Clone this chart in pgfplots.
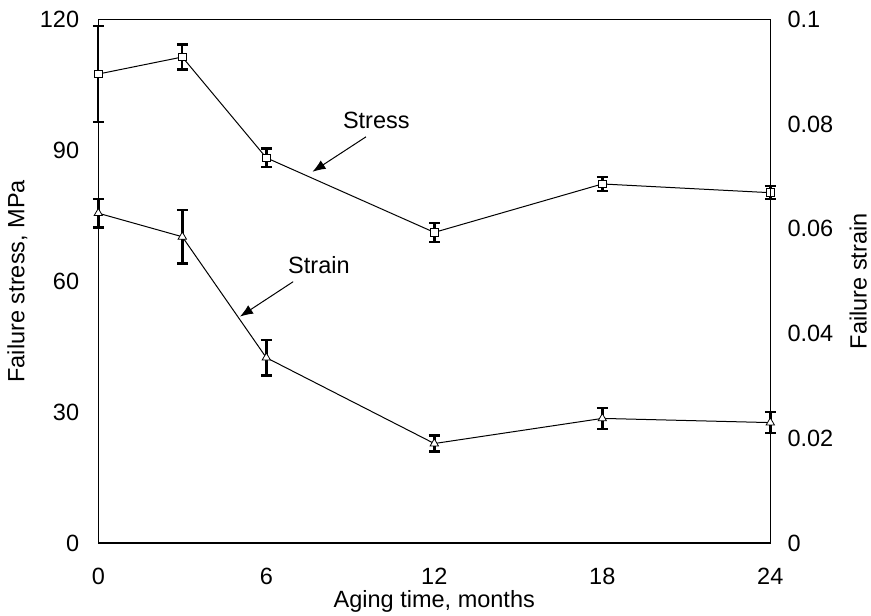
\documentclass[border=0pt]{standalone}
\usepackage{pgfplots}
\pgfplotsset{compat=1.18}
\usepackage{fontspec}
\setmainfont{Liberation Sans}
\usetikzlibrary{arrows.meta}
\begin{document}
\begin{tikzpicture}
\pgfplotsset{
  base/.style={
    scale only axis, width=672bp, height=523.5bp,
    xmin=0, xmax=24, clip=false,
    font=\fontsize{23.5bp}{28bp}\selectfont,
    major tick length=0pt,
    /pgf/number format/assume math mode=true,
    every tick label/.append style={inner sep=0pt, font=\fontsize{23.5bp}{28bp}\selectfont},
    axis line style={line width=1.2bp},
  },
  errs/.style={error bars/.cd, y dir=both, y explicit,
    error bar style={line width=2.4bp, black},
    error mark options={rotate=90, mark size=5.5bp, line width=2.4bp, black}},
}
\begin{axis}[base,
  ymin=0, ymax=120,
  xtick={0,6,12,18,24}, xticklabels={0,6,12,18,24},
  ytick={0,30,60,90,120}, yticklabels={0,30,60,90,120},
  xtick pos=bottom, ytick pos=left,
  xticklabel style={anchor=base, yshift=-41bp},
  yticklabel style={anchor=east, xshift=-19bp},
  xlabel={Aging time, months},
  ylabel={Failure stress, MPa},
  every axis x label/.style={at={(rel axis cs:0.5,0)}, anchor=base, yshift=-64bp},
  every axis y label/.style={at={(rel axis cs:0,0.5)}, xshift=-81bp, rotate=90, anchor=center},
]
\addplot[black, line width=1bp, mark=square*, mark size=3.8bp,
  mark options={fill=white, draw=black, line width=0.8bp}, errs]
  table[x=t, y=v, y error=e] {
t v e
0 107.5 11.0
3 111.4 2.9
6 88.3 2.1
12 71.2 2.2
18 82.3 1.6
24 80.3 1.5
};
\node[inner sep=0pt, anchor=center] at (axis cs:9.93,96.85) {Stress};
\draw[line width=1bp, -{Latex[length=13bp,width=10bp]}] (axis cs:9.56,93.1) -- (axis cs:7.65,85.1);
\node[inner sep=0pt, anchor=center] at (axis cs:7.88,63.66) {Strain};
\draw[line width=1bp, -{Latex[length=13bp,width=10bp]}] (axis cs:6.96,59.9) -- (axis cs:5.06,51.9);
\end{axis}
\begin{axis}[base,
  ymin=0, ymax=0.1,
  axis x line=none, axis y line*=right,
  ytick={0,0.02,0.04,0.06,0.08,0.1}, yticklabels={0,0.02,0.04,0.06,0.08,0.1},
  yticklabel style={anchor=west, xshift=17bp},
  ylabel={Failure strain},
  every axis y label/.style={at={(rel axis cs:1,0.5)}, xshift=88bp, rotate=90, anchor=center},
]
\addplot[black, line width=1bp, mark=triangle*, mark size=4.8bp,
  mark options={fill=white, draw=black, line width=0.8bp}, errs]
  table[x=t, y=v, y error=e] {
t v e
0 0.0630 0.0027
3 0.0585 0.0051
6 0.0354 0.0034
12 0.0190 0.0015
18 0.0238 0.0020
24 0.0230 0.0020
};
\end{axis}
\path (current axis.south west) ++(-98.3bp,-71bp) coordinate (bbA);
\path (current axis.north east) ++(100.7bp,19.5bp) coordinate (bbB);
\path (bbA) rectangle (bbB);
\end{tikzpicture}
\end{document}
